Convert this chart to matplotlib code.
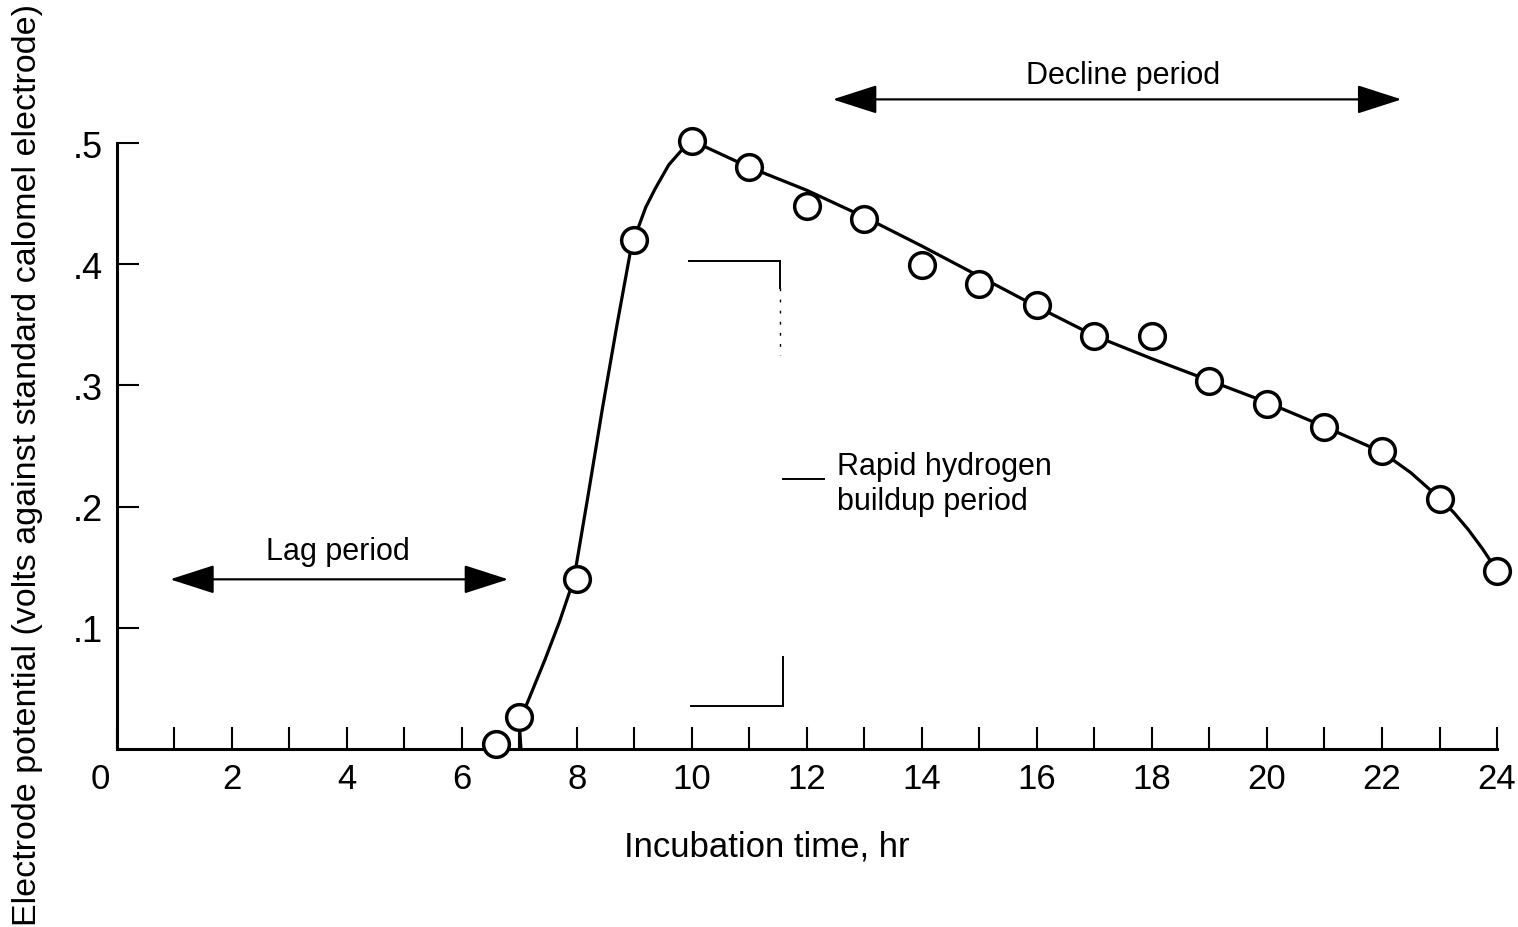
import matplotlib.pyplot as plt
from matplotlib.transforms import ScaledTranslation

plt.rcParams['font.family'] = ['Liberation Sans', 'DejaVu Sans']

# measured points (incubation time, hr / electrode potential, V)
hours = [6.6, 7, 8, 9, 10, 11, 12, 13, 14, 15, 16, 17, 18, 19, 20, 21, 22, 23, 24]
potential = [0.004, 0.026, 0.140, 0.420, 0.502, 0.480, 0.448, 0.437, 0.399, 0.384,
             0.366, 0.341, 0.341, 0.304, 0.285, 0.266, 0.246, 0.206, 0.147]

# faired curve
curve_x = [7.03, 7.0, 7.2, 7.45, 7.7, 7.95, 8.2, 8.45, 8.7, 8.97, 9.06, 9.2, 9.36,
           9.6, 9.84, 10.0, 11.0, 12.0, 13.0, 14.0, 15.0, 16.0, 17.0, 18.0, 19.0,
           20.0, 21.0, 22.0, 22.5, 23.0, 23.25, 23.5, 23.75, 24.0]
curve_y = [0.0, 0.022, 0.045, 0.074, 0.105, 0.140, 0.210, 0.282, 0.350, 0.420, 0.429,
           0.447, 0.462, 0.482, 0.495, 0.502, 0.480, 0.461, 0.439, 0.415, 0.390,
           0.365, 0.341, 0.322, 0.304, 0.286, 0.266, 0.245, 0.228, 0.207, 0.195,
           0.181, 0.165, 0.147]

x_ticks = list(range(0, 25, 2))
y_ticks = [0.1, 0.2, 0.3, 0.4, 0.5]
y_labels = ['.1', '.2', '.3', '.4', '.5']

fig = plt.figure(figsize=(15.18, 9.28), dpi=100)
ax = fig.add_axes([0.0768, 0.1918, 0.9094, 0.6530])

ax.plot(curve_x, curve_y, color='black', lw=2.3, clip_on=False, zorder=2,
        solid_joinstyle='round')
ax.plot(hours, potential, 'o', ms=18.5, mfc='white', mec='black', mew=2.5,
        clip_on=False, zorder=3)

ax.set_xlim(0, 24)
ax.set_ylim(0, 0.5)
for s in ['top', 'right']:
    ax.spines[s].set_visible(False)
for s in ['left', 'bottom']:
    ax.spines[s].set_linewidth(2.2)

ax.set_xticks(x_ticks)
ax.set_xticks(range(0, 25), minor=True)
ax.set_yticks(y_ticks)
ax.set_yticklabels(y_labels)
ax.tick_params(axis='both', which='both', direction='in', width=1.5, length=16)
ax.tick_params(axis='x', labelsize=25, pad=9)
ax.tick_params(axis='y', labelsize=26, pad=10)
ax.get_xticklabels()[0].set_transform(
    ax.get_xticklabels()[0].get_transform() + ScaledTranslation(-0.16, 0, fig.dpi_scale_trans))

fig.text(0.5053, 0.087, 'Incubation time, hr', ha='center', va='center', fontsize=25)
fig.text(0.018, 0.499, 'Electrode potential (volts against standard calomel electrode)',
         rotation=90, ha='center', va='center', fontsize=24.5)

arrow = dict(arrowstyle='<|-|>,head_length=1.4,head_width=0.45', color='black',
             lw=1.6, mutation_scale=20, shrinkA=0, shrinkB=0)

# lag period
ax.annotate('', xy=(6.81, 0.140), xytext=(0.93, 0.140), arrowprops=arrow,
            annotation_clip=False)
ax.text(3.84, 0.163, 'Lag period', ha='center', va='center', fontsize=22)

# decline period
ax.annotate('', xy=(22.34, 0.536), xytext=(12.45, 0.536), arrowprops=arrow,
            annotation_clip=False)
ax.text(17.5, 0.556, 'Decline period', ha='center', va='center', fontsize=22,
        clip_on=False)

# rapid hydrogen buildup bracket
bx = [9.96, 11.53]
ax.plot(bx, [0.4026, 0.4026], color='black', lw=1.4)
ax.plot([11.53, 11.53], [0.4026, 0.38], color='black', lw=1.4)
ax.plot([11.53, 11.53], [0.38, 0.325], color='black', lw=1.0, ls=(0, (2, 6)))
ax.plot([11.58, 11.58], [0.0355, 0.076], color='black', lw=1.4)
ax.plot([9.98, 11.58], [0.0355, 0.0355], color='black', lw=1.4)
ax.plot([11.58, 12.3], [0.223, 0.223], color='black', lw=1.4)
ax.text(12.52, 0.219, 'Rapid hydrogen\nbuildup period', ha='left', va='center',
        fontsize=22, linespacing=1.25)

fig.savefig('out.png', dpi=100)
